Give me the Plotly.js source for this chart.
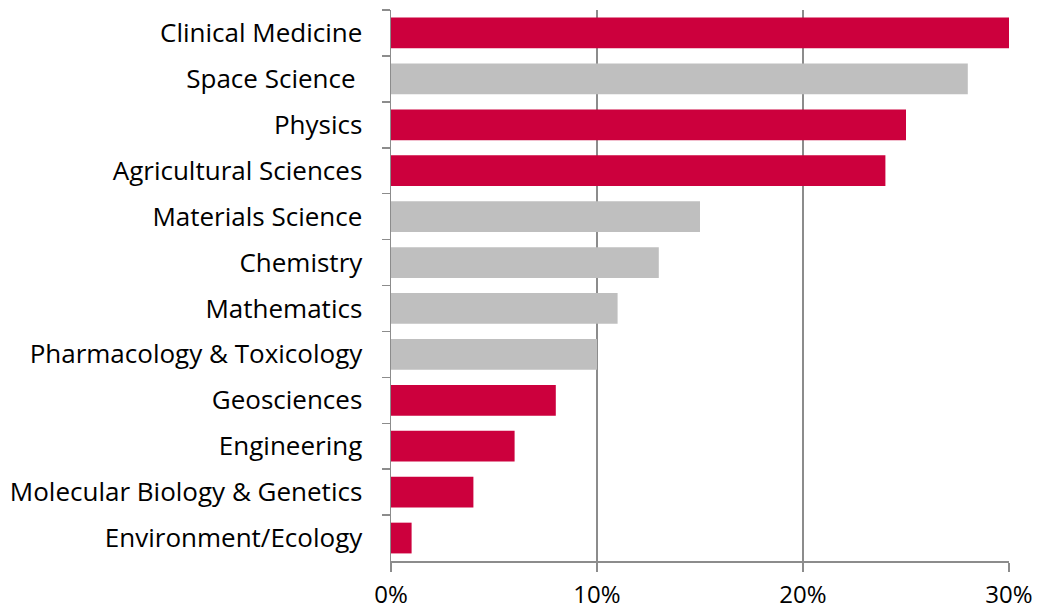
<!DOCTYPE html>
<html>
<head>
<meta charset="utf-8">
<script src="https://cdn.plot.ly/plotly-3.0.1.min.js"></script>
<style>html,body{margin:0;padding:0;background:#fff;}#chart{width:1038px;height:611px;}</style>
</head>
<body>
<div id="chart"></div>
<script>
const categories = ["Clinical Medicine", "Space Science\u00a0", "Physics", "Agricultural Sciences", "Materials Science", "Chemistry", "Mathematics", "Pharmacology & Toxicology", "Geosciences", "Engineering", "Molecular Biology & Genetics", "Environment/Ecology"];
const values = [30, 28, 25, 24, 15, 13, 11, 10, 8, 6, 4, 1];
const highlighted = [true, false, true, true, false, false, false, false, true, true, true, true];
const xTicks = [0, 10, 20, 30];

const RED = "#CC003D", GREY = "#BFBFBF";
const colors = highlighted.map(h => h ? RED : GREY);

const trace = {
  type: "bar",
  orientation: "h",
  y: categories,
  x: values,
  marker: {color: colors, line: {width: 0}},
  hoverinfo: "none"
};

const layout = {
  width: 1038, height: 611,
  margin: {l: 391, r: 29, t: 10, b: 50, pad: 0},
  paper_bgcolor: "#fff", plot_bgcolor: "#fff",
  bargap: 0.33,
  showlegend: false,
  font: {family: "'Open Sans', Lato, sans-serif", size: 26, color: "#000"},
  xaxis: {
    range: [0, 30],
    tickvals: xTicks,
    ticktext: xTicks.map(v => v + "%"),
    showgrid: true, gridcolor: "#8C8C8C", gridwidth: 1.5,
    zeroline: false,
    showline: true, linecolor: "#8C8C8C", linewidth: 1.5,
    ticks: "outside", ticklen: 9, tickcolor: "#8C8C8C", tickwidth: 1.5,
    ticklabelstandoff: 3,
    tickfont: {size: 24},
    fixedrange: true
  },
  yaxis: {
    type: "category",
    autorange: "reversed",
    showgrid: false, zeroline: false,
    showline: true, linecolor: "#8C8C8C", linewidth: 1.5,
    ticks: "outside", ticklen: 8, tickcolor: "#8C8C8C", tickwidth: 1.5,
    tickson: "boundaries",
    ticklabelstandoff: 22,
    tickfont: {size: 26},
    fixedrange: true
  }
};

Plotly.newPlot("chart", [trace], layout, {staticPlot: true, displayModeBar: false});
</script>
</body>
</html>
